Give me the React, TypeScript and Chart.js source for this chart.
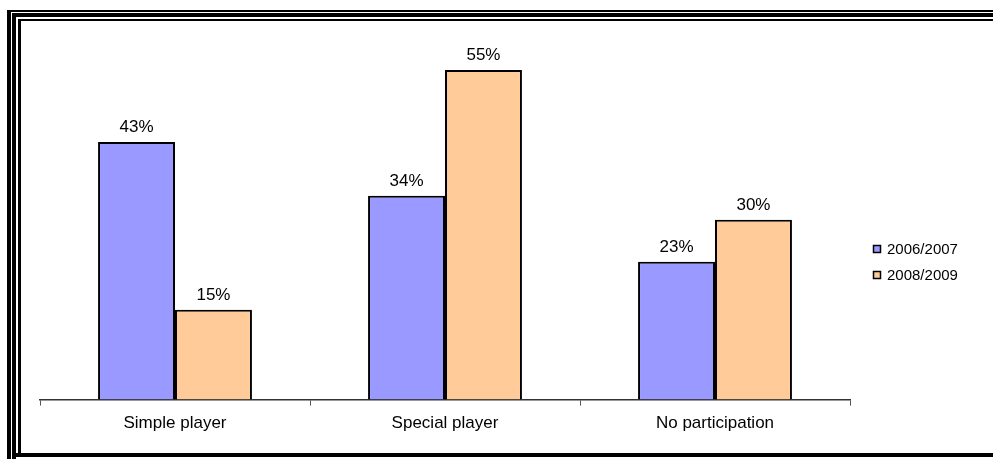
import React, { useEffect, useRef } from "react";
import { Chart, registerables } from "chart.js";

Chart.register(...registerables);

const categories = ["Simple player", "Special player", "No participation"];
const seriesNames = ["2006/2007", "2008/2009"];
const values2006 = [43, 34, 23];
const values2008 = [15, 55, 30];
const colors = ["#9999FF", "#FFCC99"];

const FONT = "'Liberation Sans', Arial, sans-serif";

const valueLabelPlugin = {
  id: "valueLabels",
  afterDatasetsDraw(chart: any) {
    const ctx = chart.ctx;
    ctx.save();
    ctx.font = `17px ${FONT}`;
    ctx.fillStyle = "#000";
    ctx.textAlign = "center";
    ctx.textBaseline = "alphabetic";
    chart.data.datasets.forEach((ds: any, i: number) => {
      const meta = chart.getDatasetMeta(i);
      meta.data.forEach((el: any, j: number) => {
        ctx.fillText(`${ds.data[j]}%`, el.x, el.y - 10);
      });
    });
    ctx.restore();
  },
};

const legendPlugin = {
  id: "sideLegend",
  afterDraw(chart: any) {
    const ctx = chart.ctx;
    ctx.save();
    ctx.font = `15px ${FONT}`;
    ctx.textBaseline = "middle";
    ctx.textAlign = "left";
    const x0 = chart.chartArea.right + 23;
    const y0 = 249;
    const pitch = 26;
    chart.data.datasets.forEach((ds: any, i: number) => {
      const y = y0 + i * pitch;
      ctx.fillStyle = ds.backgroundColor;
      ctx.fillRect(x0, y - 3.5, 7, 7);
      ctx.strokeStyle = "#000";
      ctx.lineWidth = 1.5;
      ctx.strokeRect(x0 + 0.5, y - 3.5, 7, 7);
      ctx.fillStyle = "#000";
      ctx.fillText(ds.label, x0 + 14, y + 1);
    });
    ctx.restore();
  },
};

function Frame() {
  const bar = (style: React.CSSProperties) => (
    <div style={{ position: "absolute", background: "#000", ...style }} />
  );
  return (
    <>
      {bar({ left: 7, top: 10, width: 4, height: 449 })}
      {bar({ left: 7, top: 10, width: 986, height: 2 })}
      {bar({ left: 12, top: 13, width: 4, height: 446 })}
      {bar({ left: 12, top: 13, width: 981, height: 4 })}
      {bar({ left: 18, top: 19, width: 3, height: 438 })}
      {bar({ left: 18, top: 19, width: 975, height: 2 })}
      {bar({ left: 16, top: 453, width: 977, height: 4 })}
    </>
  );
}

export default function App() {
  const ref = useRef<HTMLCanvasElement>(null);

  useEffect(() => {
    if (!ref.current) return;
    const chart = new Chart(ref.current, {
      type: "bar",
      data: {
        labels: categories,
        datasets: [
          {
            label: seriesNames[0],
            data: values2006,
            backgroundColor: colors[0],
            borderColor: "#000",
            borderWidth: 2,
          },
          {
            label: seriesNames[1],
            data: values2008,
            backgroundColor: colors[1],
            borderColor: "#000",
            borderWidth: 2,
          },
        ],
      },
      options: {
        responsive: false,
        animation: false,
        devicePixelRatio: 1,
        layout: { padding: { left: 40, right: 143, top: 40, bottom: 17 } },
        datasets: { bar: { categoryPercentage: 0.57, barPercentage: 1 } },
        plugins: {
          legend: { display: false },
          tooltip: { enabled: false },
        },
        scales: {
          x: {
            grid: {
              offset: true,
              drawOnChartArea: false,
              drawTicks: true,
              tickLength: 6,
              color: "#555",
            },
            border: { display: true, color: "#333", width: 1.5 },
            ticks: {
              padding: 8,
              color: "#000",
              font: { family: FONT, size: 17 },
            },
          },
          y: {
            display: false,
            min: 0,
            max: 60,
          },
        },
      },
      plugins: [valueLabelPlugin, legendPlugin],
    });
    return () => chart.destroy();
  }, []);

  return (
    <div
      style={{
        position: "absolute",
        left: 0,
        top: 0,
        width: 993,
        height: 459,
        background: "#fff",
        overflow: "hidden",
      }}
    >
      <canvas
        ref={ref}
        width={993}
        height={459}
        style={{ position: "absolute", left: 0, top: 0, width: 993, height: 459 }}
      />
      <Frame />
    </div>
  );
}
